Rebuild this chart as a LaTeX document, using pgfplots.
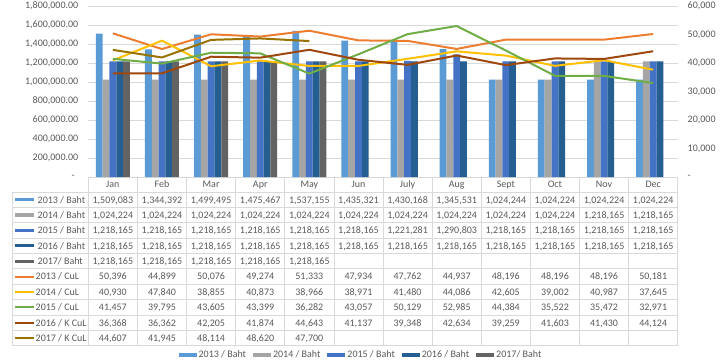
\documentclass[border=0pt]{standalone}
\usepackage{fontspec}
\setmainfont{Carlito}
\usepackage{pgfplots}
\usepackage{pgfplotstable}
\pgfplotsset{compat=1.18}

\definecolor{b13}{HTML}{5B9BD5}
\definecolor{b14}{HTML}{A5A5A5}
\definecolor{b15}{HTML}{4472C4}
\definecolor{b16}{HTML}{255E91}
\definecolor{b17}{HTML}{636363}
\definecolor{l13}{HTML}{ED7D31}
\definecolor{l14}{HTML}{FFC000}
\definecolor{l15}{HTML}{70AD47}
\definecolor{l16}{HTML}{9E480E}
\definecolor{l17}{HTML}{997300}
\definecolor{txt}{HTML}{595959}
\definecolor{grd}{HTML}{D9D9D9}

% monthly values: bars in Baht (left axis), lines in CuL (right axis)
\pgfplotstableread{
m b13 b14 b15 b16 b17 c13 c14 c15 c16 c17
0 1509083 1024224 1218165 1218165 1218165 50396 40930 41457 36368 44607
1 1344392 1024224 1218165 1218165 1218165 44899 47840 39795 36362 41945
2 1499495 1024224 1218165 1218165 1218165 50076 38855 43605 42205 48114
3 1475467 1024224 1218165 1218165 1218165 49274 40873 43399 41874 48620
4 1537155 1024224 1218165 1218165 1218165 51333 38966 36282 44643 47700
5 1435321 1024224 1218165 1218165 nan 47934 38971 43057 41137 nan
6 1430168 1024224 1221281 1218165 nan 47762 41480 50129 39348 nan
7 1345531 1024224 1290803 1218165 nan 44937 44086 52985 42634 nan
8 1024244 1024224 1218165 1218165 nan 48196 42605 44384 39259 nan
9 1024224 1024224 1218165 1218165 nan 48196 39002 35522 41603 nan
10 1024224 1218165 1218165 1218165 nan 48196 40987 35472 41430 nan
11 1024224 1218165 1218165 1218165 nan 50181 37645 32971 44124 nan
}\datatable

\pgfkeys{/pgf/number format/assume math mode=true}
\def\nanstr{nan}
\def\colw{49.12}
\def\rowh{15.37}

\begin{document}
\begin{tikzpicture}[x=1pt,y=1pt,font=\fontsize{10}{12}\selectfont]
\useasboundingbox (0,0) rectangle (720,360);

\begin{axis}[
    at={(88.3pt,183pt)}, anchor=south west,
    width=589.4pt, height=171pt, scale only axis,
    xmin=-0.5, xmax=11.5, xtick=\empty,
    ymin=0, ymax=1800000, scaled y ticks=false,
    ytick={0,200000,400000,600000,800000,1000000,1200000,1400000,1600000,1800000},
    yticklabels={{-\hspace*{3.5pt}},{200,000.00},{400,000.00},{600,000.00},{800,000.00},
        {1,000,000.00},{1,200,000.00},{1,400,000.00},{1,600,000.00},{1,800,000.00}},
    yticklabel style={text=txt, xshift=-6.5pt},
    axis line style={draw=none},
    major tick length=0pt,
    ymajorgrids, grid style={grd, line width=0.75pt},
    ybar=0pt, bar width=6.8pt,
    legend columns=5,
    legend style={draw=none, fill=none, at={(0.4627,-0.99)}, anchor=north,
        text=txt, font=\fontsize{10}{12}\selectfont,
        /tikz/every even column/.append style={column sep=5pt}},
    legend image code/.code={\fill[#1] (0pt,-1.8pt) rectangle (18pt,1.8pt);},
]
\addplot[fill=b13, draw=none] table[x=m,y=b13]{\datatable};
\addplot[fill=b14, draw=none] table[x=m,y=b14]{\datatable};
\addplot[fill=b15, draw=none] table[x=m,y=b15]{\datatable};
\addplot[fill=b16, draw=none] table[x=m,y=b16]{\datatable};
\addplot[fill=b17, draw=none] table[x=m,y=b17]{\datatable};
\legend{2013 / Baht, 2014 / Baht, 2015 / Baht, 2016 / Baht, 2017/ Baht}
\end{axis}

\begin{axis}[
    at={(88.3pt,183pt)}, anchor=south west,
    width=589.4pt, height=171pt, scale only axis,
    xmin=-0.5, xmax=11.5, hide x axis,
    ymin=0, ymax=60000, scaled y ticks=false,
    axis y line*=right,
    ytick={0,10000,20000,30000,40000,50000,60000},
    yticklabels={{-},{10,000},{20,000},{30,000},{40,000},{50,000},{60,000}},
    yticklabel style={text=txt, xshift=6.5pt},
    axis line style={draw=none},
    major tick length=0pt,
]
\addplot[l13, line width=2pt, line join=round] table[x=m,y=c13]{\datatable};
\addplot[l14, line width=2pt, line join=round] table[x=m,y=c14]{\datatable};
\addplot[l15, line width=2pt, line join=round] table[x=m,y=c15]{\datatable};
\addplot[l16, line width=2pt, line join=round] table[x=m,y=c16]{\datatable};
\addplot[l17, line width=2pt, line join=round] table[x=m,y=c17]{\datatable};
\end{axis}

% data table under the chart
\foreach \i in {0,...,12}
  \draw[grd, line width=0.75pt] ({88.3+\colw*\i},183) -- ({88.3+\colw*\i},14.3);
\draw[grd, line width=0.75pt] (12.5,168) -- (12.5,14.3);
\foreach \k in {0,...,10}
  \draw[grd, line width=0.75pt] (12.5,{168-\rowh*\k}) -- (677.7,{168-\rowh*\k});

\foreach \n [count=\i from 0] in {Jan,Feb,Mar,Apr,May,Jun,July,Aug,Sept,Oct,Nov,Dec}
  \node[anchor=base, inner sep=0, text=txt] at ({88.3+\colw*(\i+0.5)},{175.5-3.4}) {\n};

% row keys and names
\foreach \c [count=\k from 0] in {b13,b14,b15,b16,b17}
  \fill[\c] (15,{168-\rowh*(\k+0.5)-1.6}) rectangle (34,{168-\rowh*(\k+0.5)+1.6});
\foreach \c [count=\k from 5] in {l13,l14,l15,l16,l17}
  \draw[\c, line width=2pt] (15,{168-\rowh*(\k+0.5)}) -- (34,{168-\rowh*(\k+0.5)});
\begin{scope}[every node/.style={anchor=base west, inner sep=0, text=txt}]
\node at (37.5,{168-\rowh*0.5-3.4}) {2013 / Baht};
\node at (37.5,{168-\rowh*1.5-3.4}) {2014 / Baht};
\node at (37.5,{168-\rowh*2.5-3.4}) {2015 / Baht};
\node at (37.5,{168-\rowh*3.5-3.4}) {2016 / Baht};
\node at (37.5,{168-\rowh*4.5-3.4}) {2017/ Baht};
\node at (35.5,{168-\rowh*5.5-3.4}) {2013 / CuL};
\node at (35.5,{168-\rowh*6.5-3.4}) {2014 / CuL};
\node at (35.5,{168-\rowh*7.5-3.4}) {2015 / CuL};
\node at (35.5,{168-\rowh*8.5-3.4}) {2016 / K CuL};
\node at (35.5,{168-\rowh*9.5-3.4}) {2017 / K CuL};
\end{scope}

% cell values
\foreach \col [count=\k from 0] in {b13,b14,b15,b16,b17,c13,c14,c15,c16,c17} {
  \foreach \m in {0,...,11} {
    \pgfplotstablegetelem{\m}{\col}\of\datatable
    \edef\val{\pgfplotsretval}
    \ifx\val\nanstr\else
      \node[anchor=base, inner sep=0, text=txt] at ({88.3+\colw*(\m+0.5)},{168-\rowh*(\k+0.5)-3.4})
        {\pgfmathprintnumber[fixed, precision=0, 1000 sep={,}]{\val}};
    \fi
  }
}
\end{tikzpicture}
\end{document}
